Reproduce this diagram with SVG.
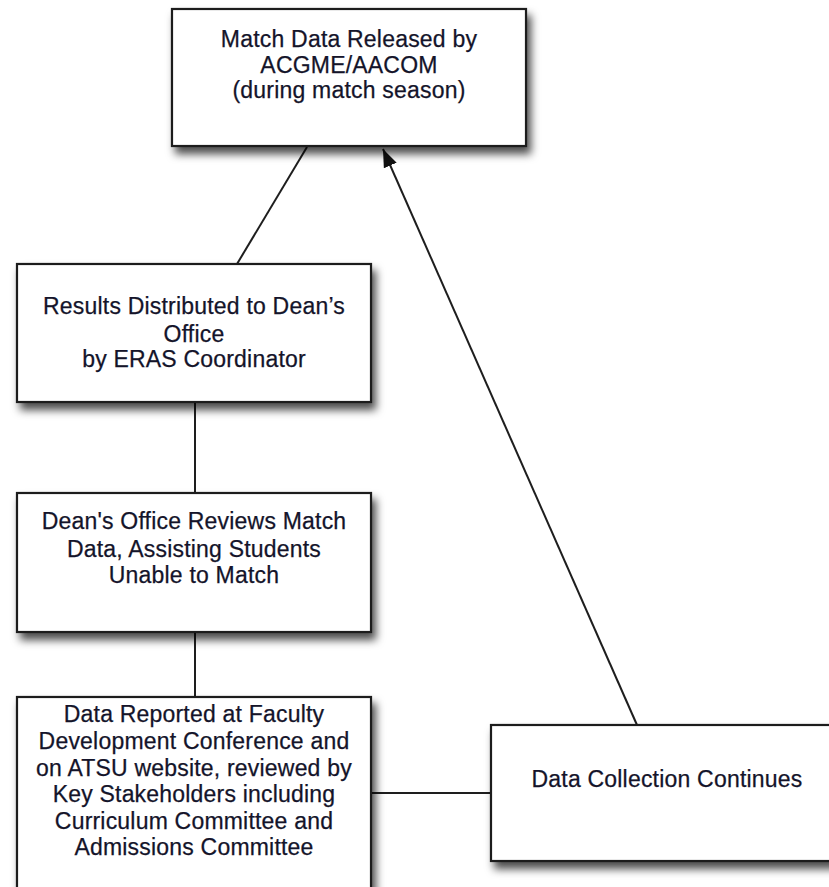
<svg xmlns="http://www.w3.org/2000/svg" width="829" height="887" viewBox="0 0 829 887">
<style>
.box{fill:#ffffff;stroke:#1e1e1e;stroke-width:2.2;filter:url(#sh)}
.t{font-family:"Liberation Sans",Arial,Helvetica,sans-serif;font-size:23px;letter-spacing:0.2px;fill:#14142a;stroke:#14142a;stroke-width:0.25;text-anchor:middle}
.c{stroke:#1e1e1e;stroke-width:2;fill:none}
</style>
<defs>
<filter id="sh" x="-10%" y="-10%" width="130%" height="140%">
<feDropShadow dx="4" dy="7" stdDeviation="4.5" flood-color="#000" flood-opacity="0.7"/>
</filter>
<marker id="arr" markerWidth="20" markerHeight="14" refX="18" refY="7" orient="auto" markerUnits="userSpaceOnUse">
<path d="M0,0 L18,7 L0,14 Z" fill="#111"/>
</marker>
</defs>
<rect width="829" height="887" fill="#ffffff"/>
<g id="connectors">
<line class="c" x1="307" y1="147" x2="237" y2="264"/>
<line class="c" x1="195" y1="402" x2="195" y2="493"/>
<line class="c" x1="195" y1="632" x2="195" y2="697"/>
<line class="c" x1="371" y1="793" x2="491" y2="793"/>
<line class="c" x1="637" y1="725" x2="383" y2="149" marker-end="url(#arr)"/>
</g>
<g id="n1">
<rect class="box" x="172" y="9" width="354" height="137"/>
<text class="t" x="349" y="47">Match Data Released by</text>
<text class="t" x="349" y="73">ACGME/AACOM</text>
<text class="t" x="349" y="98">(during match season)</text>
</g>
<g id="n2">
<rect class="box" x="17" y="264" width="354" height="138"/>
<text class="t" x="194" y="314">Results Distributed to Dean’s</text>
<text class="t" x="194" y="342">Office</text>
<text class="t" x="194" y="367">by ERAS Coordinator</text>
</g>
<g id="n3">
<rect class="box" x="17" y="493" width="354" height="139"/>
<text class="t" x="194" y="529">Dean's Office Reviews Match</text>
<text class="t" x="194" y="557">Data, Assisting Students</text>
<text class="t" x="194" y="583">Unable to Match</text>
</g>
<g id="n4">
<rect class="box" x="17" y="697" width="354" height="210"/>
<text class="t" x="194" y="722">Data Reported at Faculty</text>
<text class="t" x="194" y="749">Development Conference and</text>
<text class="t" x="194" y="776">on ATSU website, reviewed by</text>
<text class="t" x="194" y="802">Key Stakeholders including</text>
<text class="t" x="194" y="829">Curriculum Committee and</text>
<text class="t" x="194" y="855">Admissions Committee</text>
</g>
<g id="n5">
<rect class="box" x="491" y="725" width="352" height="136"/>
<text class="t" x="667" y="787">Data Collection Continues</text>
</g>
</svg>
